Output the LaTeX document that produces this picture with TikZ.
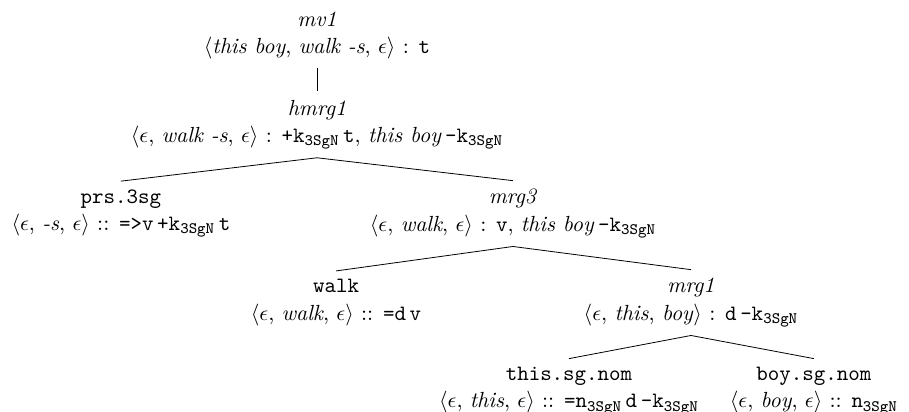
\documentclass[11pt,tikz,border=0pt]{standalone}
\usepackage{tikz}
\usetikzlibrary{positioning}

\newcommand{\fsub}[2]{\texttt{#1}$_{\mathtt{#2}}$}

\begin{document}
\begin{tikzpicture}[
    deriv/.style={align=center, inner sep=4.1pt},
    branch/.style={draw, thin}
]
    \useasboundingbox (0,0) rectangle (15.974,-7.240);

    \node[deriv] (mv1) at (5.571,-0.625) {\textit{mv1}\\$\langle$\textit{this boy}, \textit{walk -s}, $\epsilon\rangle$ : \texttt{t}};
    \node[deriv] (hmrg1) at (5.571,-2.189) {\textit{hmrg1}\\$\langle\epsilon$, \textit{walk -s}, $\epsilon\rangle$ : \fsub{+k}{3SgN}\,\texttt{t}, \textit{this boy}\,\fsub{-k}{3SgN}};

    \node[deriv] (prs) at (2.126,-3.753) {\texttt{prs.3sg}\\$\langle\epsilon$, \textit{-s}, $\epsilon\rangle$ :: \texttt{=>v}\,\fsub{+k}{3SgN}\,\texttt{t}};
    \node[deriv] (mrg3) at (9.015,-3.753) {\textit{mrg3}\\$\langle\epsilon$, \textit{walk}, $\epsilon\rangle$ : \texttt{v}, \textit{this boy}\,\fsub{-k}{3SgN}};

    \node[deriv] (walk) at (5.905,-5.317) {\texttt{walk}\\$\langle\epsilon$, \textit{walk}, $\epsilon\rangle$ :: \texttt{=d}\,\texttt{v}};
    \node[deriv] (mrg1) at (12.143,-5.317) {\textit{mrg1}\\$\langle\epsilon$, \textit{this}, \textit{boy}$\rangle$ : \texttt{d}\,\fsub{-k}{3SgN}};

    \node[deriv] (this) at (9.999,-6.87) {\texttt{this.sg.nom}\\$\langle\epsilon$, \textit{this}, $\epsilon\rangle$ :: \fsub{=n}{3SgN}\,\texttt{d}\,\fsub{-k}{3SgN}};
    \node[deriv] (boy) at (14.304,-6.87) {\texttt{boy.sg.nom}\\$\langle\epsilon$, \textit{boy}, $\epsilon\rangle$ :: \fsub{n}{3SgN}};

    \draw[branch] (mv1.south) -- (hmrg1.north);
    \draw[branch] (hmrg1.south) -- (prs.north);
    \draw[branch] (hmrg1.south) -- (mrg3.north);
    \draw[branch] (mrg3.south) -- (walk.north);
    \draw[branch] (mrg3.south) -- (mrg1.north);
    \draw[branch] (mrg1.south) -- (this.north);
    \draw[branch] (mrg1.south) -- (boy.north);
\end{tikzpicture}
\end{document}
